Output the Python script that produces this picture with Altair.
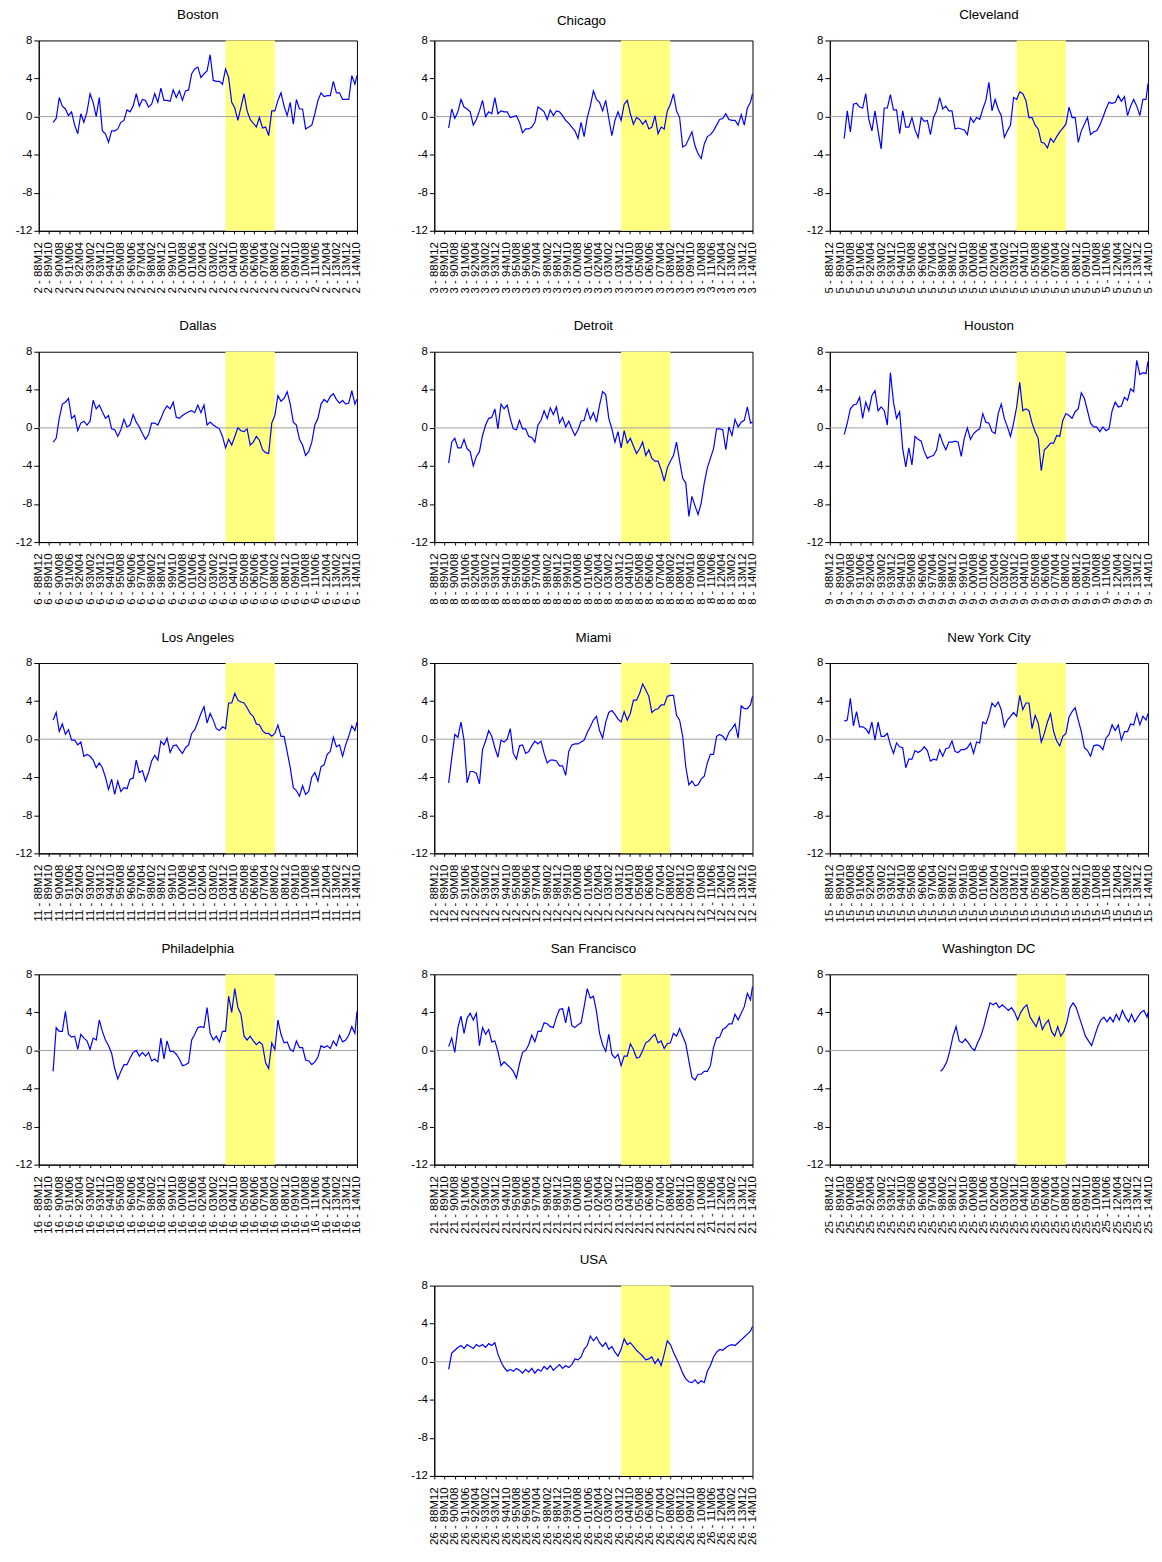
import altair as alt
import pandas as pd

# ---------------- axis / period definitions ----------------
# x positions are months counted from 1988M12 (= 0)
TICK_MONTHS = ["88M12", "89M10", "90M08", "91M06", "92M04", "93M02", "93M12", "94M10",
               "95M08", "96M06", "97M04", "98M02", "98M12", "99M10", "00M08", "01M06",
               "02M04", "03M02", "03M12", "04M10", "05M08", "06M06", "07M04", "08M02",
               "08M12", "09M10", "10M08", "11M06", "12M04", "13M02", "13M12", "14M10"]
TICK_POS = [10 * i for i in range(len(TICK_MONTHS))]
SHADE_START = 182   # 2004M02
SHADE_END = 230     # 2008M02
Y_TICKS = [-12, -8, -4, 0, 4, 8]

MAIN_IDX = list(range(14, 309, 3)) + [310]      # 1990M02 ... 2014M10
WDC_IDX = list(range(108, 310, 3)) + [310]      # 1997M12 ... 2014M10

# ---------------- series values ----------------
boston = [-0.6, -0.2, 2.0, 1.1, 0.8, 0.1, 0.5, -0.9, -1.8, 0.3,
          -0.6, 0.5, 2.4, 1.5, 0.0, 2.0, -1.5, -1.8, -2.7, -1.5,
          -1.5, -1.3, -0.6, -0.4, 0.7, 0.5, 1.1, 2.4, 1.1, 1.8,
          1.7, 1.0, 1.3, 2.4, 1.5, 3.0, 1.7, 1.7, 1.6, 2.8,
          2.0, 2.7, 1.7, 2.7, 2.8, 4.5, 5.0, 5.2, 4.1, 4.5,
          4.8, 6.5, 3.8, 3.7, 3.7, 3.4, 5.0, 4.1, 1.5, 0.9,
          -0.4, 1.0, 2.4, 0.6, -0.3, -0.7, -1.1, -0.1, -1.2, -1.1,
          -2.0, 0.6, 0.6, 1.7, 2.5, 1.1, 0.1, 1.5, -0.8, 1.8,
          0.8, 0.8, -1.3, -1.1, -0.9, 0.3, 1.7, 2.5, 2.1, 2.2,
          2.2, 3.7, 2.5, 2.5, 1.8, 1.8, 1.8, 4.3, 3.4, 4.3]
chicago = [-1.2, 0.8, -0.2, 0.5, 1.8, 1.0, 0.8, 0.5, -0.9, -0.3,
           0.6, 1.7, 0.0, 0.5, 0.3, 2.0, 0.3, 0.6, 0.5, 0.5,
           -0.1, 0.0, 0.1, -0.6, -1.7, -1.3, -1.3, -1.1, -0.6, 1.0,
           0.8, 0.5, -0.3, 0.7, 0.1, 0.6, 0.5, 0.1, -0.4, -0.7,
           -1.1, -1.5, -2.3, -0.6, -2.1, -0.1, 1.1, 2.7, 1.8, 1.5,
           0.6, 1.7, -0.2, -2.0, -0.4, 0.5, -0.4, 1.3, 1.7, 0.3,
           -0.8, -0.1, -0.3, -0.8, -0.4, -1.3, -1.1, 0.1, -1.8, -1.1,
           -1.3, 0.6, 1.3, 2.4, 0.6, -0.1, -3.2, -3.0, -2.3, -1.6,
           -3.1, -3.9, -4.4, -2.9, -2.1, -1.9, -1.5, -0.9, -0.3, -0.2,
           0.3, -0.3, -0.4, -0.4, -0.9, 0.2, -0.9, 0.9, 1.5, 2.4]
cleveland = [-2.3, 0.6, -1.6, 1.3, 1.4, 1.0, 0.9, 2.4, -0.3, -1.5,
             0.6, -1.5, -3.4, 0.9, 0.9, 2.3, 0.7, 0.7, -1.8, 0.6,
             -1.1, -1.1, -0.1, -1.4, -2.2, -0.1, -0.5, -0.4, -1.9, -0.1,
             0.6, 2.0, 0.8, 1.1, 0.6, 0.6, -1.3, -1.2, -1.3, -1.4,
             -1.9, -0.1, -0.6, -0.1, -0.3, 0.8, 1.7, 3.6, 0.6, 1.8,
             0.8, 0.1, -2.2, -1.5, -0.9, 2.0, 1.8, 2.6, 2.4, 1.7,
             -0.1, -0.1, -0.9, -1.3, -2.7, -2.8, -3.3, -2.3, -2.7, -2.1,
             -1.6, -1.2, -0.8, 1.0, -0.1, -0.1, -2.7, -1.5, -0.8, -0.1,
             -1.9, -1.6, -1.5, -0.9, -0.1, 0.8, 1.5, 1.4, 1.5, 2.2,
             1.6, 2.1, 0.1, 1.1, 1.8, 1.1, 0.1, 1.8, 1.8, 3.5]
dallas = [-1.5, -1.1, 1.0, 2.5, 2.7, 3.1, 1.0, 1.3, -0.3, 0.5,
          0.7, 0.3, 0.7, 2.9, 2.0, 2.4, 1.7, 1.0, 1.3, -0.1,
          -0.2, -0.9, -0.2, 0.9, 0.1, 0.3, 1.4, 0.6, 0.1, -0.6,
          -1.2, -0.7, 0.5, 0.5, 0.3, 1.0, 1.8, 2.3, 2.0, 2.7,
          1.1, 1.0, 1.3, 1.5, 1.7, 1.8, 1.6, 2.4, 1.6, 2.4,
          0.3, 0.6, 0.3, 0.1, -0.1, -0.9, -2.1, -1.2, -1.8, -0.9,
          0.0, -0.3, -0.4, -0.1, -1.8, -1.5, -0.9, -1.3, -2.3, -2.6,
          -2.7, 0.5, 1.3, 3.4, 2.8, 3.1, 3.8, 2.5, 0.6, 0.3,
          -1.2, -1.8, -2.9, -2.5, -1.5, 0.3, 1.0, 2.5, 3.0, 2.7,
          3.3, 3.6, 3.0, 2.6, 2.9, 2.5, 2.6, 3.9, 2.5, 3.0]
detroit = [-3.7, -1.5, -1.1, -2.1, -2.1, -1.2, -2.2, -2.5, -4.0, -3.0,
           -2.5, -0.8, 0.3, 1.0, 1.1, 2.0, -0.1, 2.5, 2.0, 2.4,
           1.0, -0.1, -0.2, 0.8, -0.1, -0.1, -0.9, -1.0, -1.5, 0.3,
           0.8, 1.8, 1.0, 2.1, 1.4, 2.2, 0.5, 1.1, 0.1, 0.7,
           -0.1, -0.8, -0.2, 0.7, 0.8, 2.0, 0.9, 1.6, 0.6, 2.4,
           3.8, 3.5, 1.0, -0.1, -1.5, -0.4, -2.1, -0.3, -1.6, -1.1,
           -1.9, -2.7, -2.2, -1.5, -2.9, -2.3, -3.2, -3.5, -3.5, -4.4,
           -5.6, -4.2, -3.5, -2.9, -1.5, -3.5, -5.3, -5.8, -9.3, -7.2,
           -8.2, -9.1, -7.9, -5.8, -4.2, -3.2, -2.2, -0.1, -0.1, -0.2,
           -2.3, 0.1, -0.8, 0.9, 0.1, 0.6, 0.8, 2.2, 0.5, 0.6]
houston = [-0.7, 0.5, 2.0, 2.4, 2.5, 3.2, 1.0, 2.7, 1.8, 3.4,
           3.9, 1.8, 2.2, 1.8, 0.3, 5.8, 2.7, 1.0, 1.7, -2.2,
           -4.1, -2.1, -3.9, -0.9, -1.2, -1.4, -2.5, -3.2, -3.0, -2.9,
           -2.3, -0.6, -1.6, -2.3, -1.5, -1.5, -1.4, -1.5, -3.0, -1.1,
           0.0, -1.2, -0.6, -0.3, -0.1, 1.5, 0.6, 0.5, -0.4, -0.6,
           1.5, 2.5, 1.0, 0.1, -0.9, 0.5, 2.2, 4.8, 1.8, 2.0,
           1.8, 0.5, -0.4, -1.1, -4.5, -2.3, -2.0, -1.6, -1.6, -0.8,
           -0.9, 0.8, 1.5, 1.3, 1.0, 1.7, 2.0, 3.7, 3.1, 1.8,
           0.5, 0.1, 0.1, -0.4, 0.1, -0.3, -0.1, 1.8, 2.7, 2.2,
           2.3, 3.2, 2.9, 4.1, 3.8, 7.1, 5.6, 5.8, 5.7, 7.0]
los_angeles = [2.0, 2.8, 0.8, 1.6, 0.5, 1.0, -0.1, -0.1, -0.6, -0.3,
               -1.8, -1.6, -1.8, -2.2, -3.0, -2.5, -3.0, -4.0, -5.3, -4.2,
               -5.8, -4.4, -5.5, -5.1, -5.2, -4.2, -4.1, -2.2, -3.5, -3.3,
               -4.4, -3.5, -2.3, -1.7, -2.2, -0.2, -0.6, 0.1, -1.4, -0.7,
               -0.6, -1.1, -1.5, -0.9, -0.6, 0.6, 1.0, 1.8, 2.7, 3.4,
               1.7, 2.7, 2.0, 1.1, 0.9, 1.3, 1.1, 3.8, 3.8, 4.8,
               4.1, 3.9, 3.8, 3.3, 2.7, 2.4, 1.6, 1.5, 0.9, 0.6,
               0.6, 0.3, 0.6, 1.5, 0.3, 0.3, -1.3, -3.0, -5.1, -5.4,
               -6.0, -4.9, -5.8, -5.5, -4.0, -3.5, -4.4, -2.9, -2.7, -1.6,
               -1.3, 0.2, -0.8, -0.6, -1.8, -0.6, 0.3, 1.4, 0.9, 1.8]
miami = [-4.6, -2.0, 0.5, 0.2, 1.8, -0.1, -4.6, -3.4, -3.4, -3.6,
         -4.7, -1.1, -0.2, 0.9, 0.3, -0.9, -1.9, -0.1, -0.3, 0.0,
         1.1, -1.5, -2.1, -0.7, -0.6, -1.5, -1.3, -0.7, -0.2, -0.5,
         -0.2, -1.5, -2.5, -2.2, -2.2, -2.3, -2.8, -2.8, -3.8, -1.3,
         -0.6, -0.5, -0.5, -0.3, -0.1, 0.7, 1.3, 2.0, 2.4, 0.9,
         0.1, 1.8, 2.8, 3.0, 2.6, 2.1, 1.8, 2.9, 2.0, 2.7,
         4.1, 4.1, 4.8, 5.8, 5.2, 4.5, 2.8, 3.1, 3.2, 3.6,
         3.6, 4.5, 4.6, 4.6, 2.5, 2.0, 0.3, -2.9, -4.8, -4.4,
         -4.9, -4.8, -4.2, -3.9, -2.5, -1.6, -1.6, 0.3, 0.5, 0.3,
         -0.1, 0.7, 1.1, 1.6, 0.1, 3.5, 3.2, 3.2, 3.6, 4.5]
new_york = [1.9, 2.0, 4.3, 1.4, 2.9, 1.3, 1.3, 1.1, 0.6, 1.8,
            -0.1, 1.8, 0.3, 0.3, 0.6, -0.6, -1.5, -0.4, -0.8, -0.9,
            -3.0, -2.1, -2.1, -1.2, -1.4, -1.2, -0.8, -1.2, -2.3, -2.1,
            -2.2, -1.1, -1.8, -1.0, -0.9, -0.2, -1.3, -1.4, -1.1, -1.1,
            -0.9, -0.4, -1.5, -0.3, -0.4, 1.8, 1.6, 2.5, 3.8, 3.4,
            3.9, 3.1, 1.3, 2.0, 2.4, 2.8, 2.4, 4.6, 3.1, 3.8,
            3.8, 1.1, 2.5, 1.7, -0.3, 0.6, 1.8, 2.7, 0.8, -0.2,
            -0.7, 0.3, 0.6, 2.3, 2.9, 3.3, 2.0, 0.8, -0.9, -1.2,
            -1.8, -0.7, -0.6, -0.7, -1.1, 0.1, 0.5, 1.5, 0.9, 1.5,
            -0.1, 0.8, 0.8, 1.6, 1.5, 2.7, 1.5, 2.4, 2.0, 2.7]
philadelphia = [-2.2, 2.4, 2.0, 2.0, 4.1, 1.7, 1.4, 1.5, 0.1, 1.7,
                1.3, 1.0, 0.1, 1.3, 1.1, 3.2, 2.0, 1.1, 0.5, -0.3,
                -1.9, -3.0, -2.2, -1.5, -1.5, -0.8, -0.2, 0.0, -0.6, -0.2,
                -0.6, -0.2, -1.1, -0.9, -1.2, 1.3, -0.9, 1.0, -0.1, -0.1,
                -0.4, -0.9, -1.6, -1.5, -1.3, 1.1, 1.7, 2.4, 2.5, 2.4,
                4.5, 1.8, 1.1, 1.5, 0.9, 2.0, 2.0, 5.7, 4.0, 6.5,
                4.5, 3.8, 1.5, 1.1, 1.5, 1.0, 0.6, 0.9, 0.6, -1.3,
                -1.9, 0.8, 0.1, 3.2, 1.7, 0.8, 0.9, 0.1, -0.1, 1.0,
                0.3, 0.3, -1.0, -1.1, -1.5, -1.2, -0.7, 0.5, 0.3, 0.5,
                0.2, 1.0, 0.5, 1.6, 0.9, 1.1, 1.6, 2.5, 1.8, 4.1]
san_francisco = [0.4, 1.3, -0.2, 2.4, 3.6, 1.8, 3.4, 3.9, 3.2, 3.9,
                 0.5, 2.4, 1.7, 2.2, 0.9, 1.0, -0.1, -1.6, -1.2, -1.5,
                 -1.8, -2.2, -2.9, -1.4, -0.2, 0.0, 0.6, 1.6, 0.9, 2.0,
                 2.0, 2.9, 2.8, 2.5, 2.4, 3.5, 4.3, 4.4, 2.9, 4.6,
                 2.6, 2.4, 2.7, 2.9, 4.6, 6.5, 5.5, 5.7, 4.1, 1.8,
                 0.6, -0.1, 1.7, -0.4, -0.8, -0.4, -1.6, -0.6, -0.6, 0.7,
                 0.1, -0.8, -0.7, 0.0, 0.8, 1.0, 1.4, 1.7, 0.8, 1.0,
                 0.2, 0.7, 0.8, 1.8, 1.5, 2.3, 1.5, 0.7, -1.1, -2.8,
                 -3.1, -2.5, -2.5, -2.2, -2.2, -1.6, 0.3, 1.3, 1.4, 2.2,
                 2.4, 2.8, 2.8, 3.8, 3.2, 3.9, 4.6, 6.0, 5.3, 6.7]
washington = [-2.2, -1.8, -1.2, 0.0, 1.5, 2.5, 1.0, 0.8, 1.2, 0.8,
              0.3, 0.0, 0.8, 1.5, 2.5, 3.8, 5.0, 4.8, 5.0, 4.5,
              4.8, 4.5, 4.2, 4.5, 4.0, 3.2, 4.0, 4.5, 4.8, 3.5,
              3.0, 2.5, 3.5, 2.2, 2.8, 3.2, 2.0, 1.5, 2.5, 1.5,
              2.0, 3.0, 4.5, 5.0, 4.5, 3.5, 2.5, 1.5, 1.0, 0.5,
              1.5, 2.5, 3.2, 3.5, 3.0, 3.5, 3.0, 3.8, 3.2, 4.2,
              3.5, 3.0, 3.8, 3.0, 3.5, 4.0, 4.2, 3.5, 4.0]
usa = [-0.8, 0.9, 1.2, 1.5, 1.7, 1.4, 1.8, 1.6, 1.4, 1.8,
       1.6, 1.8, 1.5, 1.9, 1.7, 2.0, 0.8, 0.0, -0.6, -1.0,
       -0.8, -1.0, -0.7, -0.9, -1.2, -0.8, -1.1, -0.7, -1.2, -0.8,
       -1.0, -0.5, -0.8, -0.4, -0.9, -0.6, -0.3, -0.7, -0.4, -0.6,
       -0.3, 0.3, 0.2, 0.5, 1.3, 1.7, 2.7, 2.2, 2.6, 2.0,
       1.6, 2.0, 1.3, 1.6, 1.0, 0.6, 1.3, 2.4, 1.8, 2.0,
       1.6, 1.2, 0.9, 0.6, 0.2, 0.3, 0.5, -0.2, 0.3, -0.4,
       0.8, 2.2, 1.8, 1.0, 0.3, -0.4, -1.2, -1.8, -2.1, -2.2,
       -1.9, -2.3, -2.0, -2.2, -1.0, -0.4, 0.5, 1.0, 1.3, 1.2,
       1.5, 1.7, 1.8, 1.7, 2.0, 2.3, 2.6, 2.9, 3.2, 3.7]

# (title, cross-section code, x positions, values, title offset, title dx)
PANELS = [
    ("Boston", 2, MAIN_IDX, boston, 13, 0),
    ("Chicago", 3, MAIN_IDX, chicago, 7, -12),
    ("Cleveland", 5, MAIN_IDX, cleveland, 13, 0),
    ("Dallas", 6, MAIN_IDX, dallas, 13, 0),
    ("Detroit", 8, MAIN_IDX, detroit, 13, 0),
    ("Houston", 9, MAIN_IDX, houston, 13, 0),
    ("Los Angeles", 11, MAIN_IDX, los_angeles, 13, 0),
    ("Miami", 12, MAIN_IDX, miami, 13, 0),
    ("New York City", 15, MAIN_IDX, new_york, 13, 0),
    ("Philadelphia", 16, MAIN_IDX, philadelphia, 13, 0),
    ("San Francisco", 21, MAIN_IDX, san_francisco, 13, 0),
    ("Washington DC", 25, WDC_IDX, washington, 13, 0),
    ("USA", 26, MAIN_IDX, usa, 13, 0),
]

W, H = 321, 192
FONT = "Liberation Sans"


def panel(name, code, idx, vals, toff, tdx):
    n = min(len(idx), len(vals))
    df = pd.DataFrame({"t": idx[:n], "v": vals[:n]})
    labels_js = "[" + ",".join("'%d - %s'" % (code, m) for m in TICK_MONTHS) + "]"
    xscale = alt.Scale(domain=[0, 310], nice=False, zero=False)
    yscale = alt.Scale(domain=[-12, 8], nice=False, zero=False)
    xaxis = alt.Axis(values=TICK_POS, labelExpr=labels_js + "[round(datum.value / 10)]",
                     labelAngle=-90, labelOverlap=False, labelFlush=False,
                     tickSize=3, labelPadding=8, labelFontSize=11.5)
    yaxis = alt.Axis(values=Y_TICKS, labelExpr="'' + datum.value", tickSize=5,
                     labelPadding=2, labelFontSize=11.5)

    shade = alt.Chart(pd.DataFrame({"s": [SHADE_START], "e": [SHADE_END]})).mark_rect(
        color="#FFFF80").encode(
        x=alt.X("s:Q", scale=xscale, axis=xaxis, title=None),
        x2="e:Q",
        y=alt.YDatum(8, scale=yscale, axis=yaxis, title=None),
        y2=alt.Y2Datum(-12),
    )
    zero = alt.Chart(pd.DataFrame({"z": [0]})).mark_rule(
        color="#A0A0A0", strokeWidth=1).encode(
        y=alt.Y("z:Q", scale=yscale, axis=yaxis, title=None))
    line = alt.Chart(df).mark_line(color="#0000FF", strokeWidth=1.2).encode(
        x=alt.X("t:Q", scale=xscale, axis=xaxis, title=None),
        y=alt.Y("v:Q", scale=yscale, axis=yaxis, title=None),
    )
    return alt.layer(shade, zero, line).properties(
        width=W, height=H,
        title=alt.TitleParams(text=name, offset=toff, dx=tdx, fontSize=13.5, font=FONT,
                              fontWeight="normal", color="black", anchor="middle"))


charts = [panel(*p) for p in PANELS[:12]]
spacer = alt.Chart(pd.DataFrame({"a": [0]})).mark_point(opacity=0).encode(
    x=alt.X("a:Q", axis=None), y=alt.Y("a:Q", axis=None)
).properties(width=W, height=H, view=alt.ViewBackground(strokeOpacity=0))
charts.append(spacer)
charts.append(panel(*PANELS[12]))

chart = alt.concat(*charts, columns=3, spacing={"row": 122, "column": 78},
                   bounds="flush").properties(
    padding={"left": 6, "top": -7, "right": 0, "bottom": 0}
).configure_view(stroke="black", strokeWidth=1).configure_axis(
    labelFont=FONT, labelColor="black", tickColor="black", domainColor="black",
    grid=False, tickWidth=1, domainWidth=1
).configure_title(font=FONT, fontWeight="normal", color="black")

chart.save("out.html", embed_options={"renderer": "svg", "actions": False})
